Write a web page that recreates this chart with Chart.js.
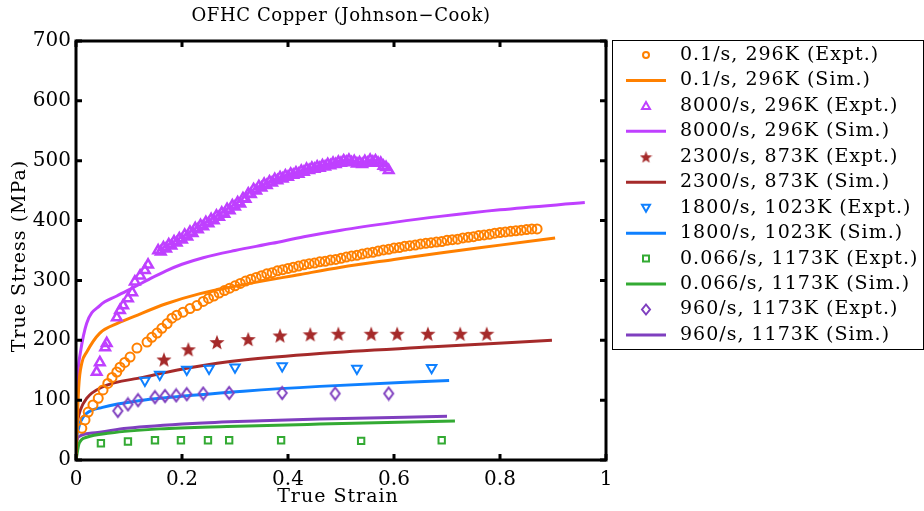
<!DOCTYPE html>
<html>
<head>
<meta charset="utf-8">
<script src="https://cdn.jsdelivr.net/npm/chart.js@4.4.0/dist/chart.umd.min.js"></script>
<style>
  html, body { margin: 0; padding: 0; background: #fff; }
</style>
</head>
<body>
<canvas id="myChart" width="924" height="511"></canvas>
<script>
// Stress-strain data, [true strain, true stress (MPa)]
const seriesLabels = [
    '0.1/s, 296K (Expt.)', '0.1/s, 296K (Sim.)',
    '8000/s, 296K (Expt.)', '8000/s, 296K (Sim.)',
    '2300/s, 873K (Expt.)', '2300/s, 873K (Sim.)',
    '1800/s, 1023K (Expt.)', '1800/s, 1023K (Sim.)',
    '0.066/s, 1173K (Expt.)', '0.066/s, 1173K (Sim.)',
    '960/s, 1173K (Expt.)', '960/s, 1173K (Sim.)'
];
const seriesColors = ['#ff8000', '#bf40ff', '#a52a2a', '#0f80ff', '#33aa33', '#7f3fbf'];

const xTicks = [0, 0.2, 0.4, 0.6, 0.8, 1];
const yTicks = [0, 100, 200, 300, 400, 500, 600, 700];

const slow296Expt = [
    [0.011, 53], [0.017, 67], [0.023, 80], [0.032, 92], [0.042, 103], [0.051, 117], [0.060, 128],
    [0.068, 138], [0.077, 147], [0.083, 155], [0.092, 163], [0.102, 172], [0.115, 187], [0.134, 197],
    [0.143, 205], [0.153, 212], [0.162, 220], [0.172, 228], [0.181, 237], [0.190, 242], [0.202, 247],
    [0.215, 253], [0.228, 258], [0.24, 265], [0.25, 270], [0.26, 274], [0.27, 279], [0.28, 283],
    [0.29, 287], [0.30, 291], [0.31, 295], [0.32, 299], [0.33, 302], [0.34, 305], [0.35, 308],
    [0.36, 311], [0.37, 313], [0.38, 316], [0.39, 318], [0.40, 320], [0.41, 322], [0.42, 324],
    [0.43, 326], [0.44, 328], [0.45, 329], [0.46, 331], [0.47, 332], [0.48, 334], [0.49, 335],
    [0.50, 337], [0.51, 339], [0.52, 341], [0.53, 342], [0.54, 344], [0.55, 346], [0.56, 347],
    [0.57, 349], [0.58, 351], [0.59, 352], [0.60, 354], [0.61, 355], [0.62, 357], [0.63, 358],
    [0.64, 359], [0.65, 361], [0.66, 362], [0.67, 363], [0.68, 364], [0.69, 365], [0.70, 367],
    [0.71, 368], [0.72, 369], [0.73, 371], [0.74, 372], [0.75, 373], [0.76, 375], [0.77, 376],
    [0.78, 377], [0.79, 379], [0.80, 380], [0.81, 381], [0.82, 382], [0.83, 383], [0.84, 384],
    [0.85, 385], [0.86, 386], [0.87, 386]
];
const slow296Sim = [
    [0, 0], [0.005, 120], [0.011, 162], [0.02, 180], [0.045, 212], [0.08, 229], [0.11, 240],
    [0.17, 261], [0.234, 278], [0.31, 292], [0.423, 310], [0.5, 322], [0.6, 335], [0.687, 346],
    [0.8, 359], [0.904, 371]
];
const fast296Expt = [
    [0.039, 147], [0.045, 163], [0.055, 188], [0.058, 195], [0.077, 238], [0.083, 250], [0.089, 258],
    [0.098, 270], [0.106, 280], [0.111, 298], [0.121, 308], [0.130, 317], [0.136, 326],
    [0.155, 350], [0.16, 348], [0.165, 355], [0.17, 353], [0.175, 360], [0.18, 358], [0.185, 365],
    [0.19, 363], [0.195, 370], [0.20, 368], [0.205, 376], [0.21, 373], [0.215, 381], [0.22, 379],
    [0.225, 387], [0.23, 385], [0.235, 392], [0.24, 390], [0.245, 397], [0.25, 395], [0.255, 402],
    [0.26, 400], [0.265, 408], [0.27, 406], [0.275, 413], [0.28, 411], [0.285, 419], [0.29, 417],
    [0.295, 425], [0.30, 423], [0.305, 430], [0.31, 428], [0.315, 437], [0.32, 436], [0.325, 445],
    [0.33, 444], [0.335, 452], [0.34, 450], [0.345, 457], [0.35, 455], [0.355, 461], [0.36, 459],
    [0.365, 465], [0.37, 463], [0.375, 469], [0.38, 467], [0.385, 472], [0.39, 470], [0.395, 475],
    [0.40, 473], [0.405, 478], [0.41, 476], [0.415, 480], [0.42, 478], [0.425, 483], [0.43, 481],
    [0.435, 486], [0.44, 484], [0.445, 488], [0.45, 486], [0.455, 490], [0.46, 488], [0.465, 492],
    [0.47, 490], [0.475, 494], [0.48, 492], [0.485, 496], [0.49, 494], [0.495, 498], [0.50, 496],
    [0.505, 500], [0.51, 498], [0.515, 501], [0.52, 497], [0.525, 499], [0.53, 495], [0.535, 497],
    [0.54, 494], [0.545, 499], [0.55, 496], [0.555, 501], [0.56, 498], [0.565, 500], [0.57, 496],
    [0.575, 496], [0.58, 491], [0.585, 489], [0.59, 484]
];
const fast296Sim = [
    [0, 80], [0.004, 150], [0.008, 178], [0.02, 228], [0.045, 258], [0.077, 274], [0.11, 289],
    [0.14, 303], [0.17, 316], [0.2, 327], [0.24, 338], [0.30, 350], [0.37, 362], [0.43, 373],
    [0.5, 384], [0.6, 397], [0.687, 407], [0.8, 418], [0.96, 430]
];
const hot873Expt = [
    [0.166, 168], [0.212, 185], [0.266, 197], [0.325, 202], [0.385, 208], [0.442, 210],
    [0.495, 211], [0.557, 211], [0.606, 211], [0.664, 211], [0.725, 211], [0.775, 211]
];
const hot873Sim = [
    [0, 55], [0.008, 83], [0.02, 103], [0.05, 122], [0.126, 138], [0.22, 155], [0.316, 167],
    [0.46, 178], [0.674, 189], [0.898, 200]
];
const hot1023Expt = [
    [0.130, 133], [0.158, 143], [0.209, 151], [0.251, 153], [0.300, 155], [0.389, 157],
    [0.530, 153], [0.671, 154]
];
const hot1023Sim = [
    [0, 35], [0.008, 63], [0.02, 78], [0.05, 88], [0.126, 100], [0.22, 108], [0.316, 115],
    [0.46, 123], [0.704, 133]
];
const slow1173Expt = [
    [0.047, 28], [0.098, 31], [0.149, 33], [0.198, 33], [0.249, 33], [0.289, 33], [0.387, 33],
    [0.538, 32], [0.690, 33]
];
const slow1173Sim = [
    [0, 0], [0.006, 28], [0.02, 38], [0.064, 45], [0.158, 52], [0.285, 56], [0.46, 60], [0.715, 65]
];
const fast1173Expt = [
    [0.079, 82], [0.098, 93], [0.117, 100], [0.149, 105], [0.168, 107], [0.189, 108], [0.209, 110],
    [0.240, 111], [0.289, 112], [0.389, 112], [0.489, 111], [0.590, 111]
];
const fast1173Sim = [
    [0, 22], [0.004, 38], [0.03, 45], [0.096, 53], [0.22, 61], [0.35, 65.5], [0.46, 68.5], [0.70, 73]
];

const FONT = '"DejaVu Serif", "Liberation Serif", serif';

// filled five-point star used as the 873K marker
function makeStar(size, color) {
    const c = document.createElement('canvas');
    c.width = size; c.height = size;
    const g = c.getContext('2d');
    const cx = size / 2, cy = size / 2 + 0.8, ro = size / 2, ri = ro * 0.42;
    g.beginPath();
    for (let i = 0; i < 10; i++) {
        const r = i % 2 === 0 ? ro : ri;
        const a = -Math.PI / 2 + i * Math.PI / 5;
        g.lineTo(cx + r * Math.cos(a), cy + r * Math.sin(a));
    }
    g.closePath();
    g.fillStyle = color;
    g.fill();
    return c;
}
// tall hollow diamond for the 960/s marker
function makeDiamond(w, h, color) {
    const c = document.createElement('canvas');
    c.width = w + 4; c.height = h + 4;
    const g = c.getContext('2d');
    const cx = c.width / 2, cy = c.height / 2;
    g.beginPath();
    g.moveTo(cx, cy - h / 2); g.lineTo(cx + w / 2, cy); g.lineTo(cx, cy + h / 2); g.lineTo(cx - w / 2, cy);
    g.closePath();
    g.strokeStyle = color; g.lineWidth = 2;
    g.stroke();
    return c;
}
const starMarker = makeStar(16, seriesColors[2]);
const starSmall = makeStar(13, seriesColors[2]);
const diamondMarker = makeDiamond(9, 12, seriesColors[5]);

const toPts = arr => arr.map(p => ({ x: p[0], y: p[1] }));

function expt(idx, data, color, style, radius, extra) {
    return Object.assign({
        label: seriesLabels[idx],
        data: toPts(data),
        showLine: false,
        pointStyle: style,
        pointRadius: radius,
        pointBorderColor: color,
        pointBackgroundColor: 'rgba(0,0,0,0)',
        pointBorderWidth: 2,
        borderColor: color,
        order: 1
    }, extra || {});
}
function sim(idx, data, color) {
    return {
        label: seriesLabels[idx],
        data: toPts(data),
        showLine: true,
        borderColor: color,
        borderWidth: 3,
        pointRadius: 0,
        cubicInterpolationMode: 'monotone',
        order: 2
    };
}

const datasets = [
    expt(0, slow296Expt, seriesColors[0], 'circle', 4.5),
    sim(1, slow296Sim, seriesColors[0]),
    expt(2, fast296Expt, seriesColors[1], 'triangle', 5.5, { pointBorderWidth: 2.5 }),
    sim(3, fast296Sim, seriesColors[1]),
    expt(4, hot873Expt, seriesColors[2], starMarker, 8),
    sim(5, hot873Sim, seriesColors[2]),
    expt(6, hot1023Expt, seriesColors[3], 'triangle', 5.5, { pointRotation: 180 }),
    sim(7, hot1023Sim, seriesColors[3]),
    expt(8, slow1173Expt, seriesColors[4], 'rect', 4.5),
    sim(9, slow1173Sim, seriesColors[4]),
    expt(10, fast1173Expt, seriesColors[5], diamondMarker, 6),
    sim(11, fast1173Sim, seriesColors[5])
];

// small marker drawing for the legend
function legendMarker(g, kind, x, y, color) {
    g.save();
    g.strokeStyle = color; g.fillStyle = color; g.lineWidth = 2;
    g.beginPath();
    if (kind === 'circle') {
        g.arc(x, y, 3, 0, Math.PI * 2); g.stroke();
    } else if (kind === 'up') {
        g.moveTo(x, y - 4); g.lineTo(x + 4, y + 3); g.lineTo(x - 4, y + 3); g.closePath(); g.stroke();
    } else if (kind === 'down') {
        g.moveTo(x, y + 4); g.lineTo(x + 4, y - 3); g.lineTo(x - 4, y - 3); g.closePath(); g.stroke();
    } else if (kind === 'square') {
        g.rect(x - 3, y - 3, 6, 6); g.stroke();
    } else if (kind === 'diamond') {
        g.moveTo(x, y - 5); g.lineTo(x + 4, y); g.lineTo(x, y + 5); g.lineTo(x - 4, y); g.closePath(); g.stroke();
    } else if (kind === 'star') {
        g.drawImage(starSmall, x - 6.5, y - 6.5);
    }
    g.restore();
}
const legendKinds = ['circle', 'line', 'up', 'line', 'star', 'line', 'down', 'line', 'square', 'line', 'diamond', 'line'];

const framePlugin = {
    id: 'frame',
    afterDatasetsDraw(chart) {
        const g = chart.ctx;
        const a = chart.chartArea;
        const xs = chart.scales.x, ys = chart.scales.y;
        g.save();
        // inward tick marks
        g.strokeStyle = '#000';
        g.lineWidth = 3;
        g.beginPath();
        xTicks.forEach(v => {
            const px = xs.getPixelForValue(v);
            g.moveTo(px, a.bottom); g.lineTo(px, a.bottom - 6);
            g.moveTo(px, a.top); g.lineTo(px, a.top + 6);
        });
        yTicks.forEach(v => {
            const py = ys.getPixelForValue(v);
            g.moveTo(a.left, py); g.lineTo(a.left + 6, py);
            g.moveTo(a.right, py); g.lineTo(a.right - 6, py);
        });
        g.stroke();
        g.strokeRect(a.left, a.top, a.right - a.left, a.bottom - a.top);

        // titles
        g.fillStyle = '#000';
        g.textAlign = 'center';
        g.textBaseline = 'middle';
        g.letterSpacing = '0.6px';
        g.font = '18px ' + FONT;
        g.fillText('OFHC Copper (Johnson\u2212Cook)', (a.left + a.right) / 2, 16);
        g.letterSpacing = '1px';
        g.font = '19px ' + FONT;
        g.fillText('True Strain', (a.left + a.right) / 2 - 3, 497);
        g.save();
        g.translate(20, 256);
        g.rotate(-Math.PI / 2);
        g.fillText('True Stress (MPa)', 0, 0);
        g.restore();

        // legend
        const lx = 612, ly = 40, lw = 311, lh = 309;
        g.lineWidth = 1;
        g.strokeStyle = '#000';
        g.strokeRect(lx + 0.5, ly + 0.5, lw, lh);
        g.font = '19px ' + FONT;
        g.textAlign = 'left';
        seriesLabels.forEach((txt, i) => {
            const cy = 55 + i * 25.45;
            const color = seriesColors[Math.floor(i / 2)];
            if (legendKinds[i] === 'line') {
                g.strokeStyle = color; g.lineWidth = 3;
                g.beginPath(); g.moveTo(626, cy); g.lineTo(666, cy); g.stroke();
            } else {
                legendMarker(g, legendKinds[i], 646, cy, color);
            }
            g.fillStyle = '#000';
            g.fillText(txt, 680, cy);
        });
        g.restore();
    }
};

const ctx = document.getElementById('myChart').getContext('2d');
const chart = new Chart(ctx, {
    type: 'scatter',
    data: { datasets: datasets },
    options: {
        responsive: false,
        animation: false,
        devicePixelRatio: 1,
        layout: { padding: { left: 0, right: 318, top: 41, bottom: 0 } },
        plugins: { legend: { display: false }, tooltip: { enabled: false } },
        scales: {
            x: {
                type: 'linear', min: 0, max: 1,
                grid: { display: false, drawTicks: false },
                border: { display: false },
                afterFit: s => { s.height = 51; },
                afterBuildTicks: s => { s.ticks = xTicks.map(v => ({ value: v })); },
                ticks: { color: '#000', padding: 8, font: { family: FONT, size: 20 }, callback: v => String(v) }
            },
            y: {
                type: 'linear', min: 0, max: 700,
                grid: { display: false, drawTicks: false },
                border: { display: false },
                afterFit: s => { s.width = 76; },
                afterBuildTicks: s => { s.ticks = yTicks.map(v => ({ value: v })); },
                ticks: { color: '#000', padding: 5, font: { family: FONT, size: 20 }, callback: v => String(v) }
            }
        }
    },
    plugins: [framePlugin]
});
</script>
</body>
</html>
